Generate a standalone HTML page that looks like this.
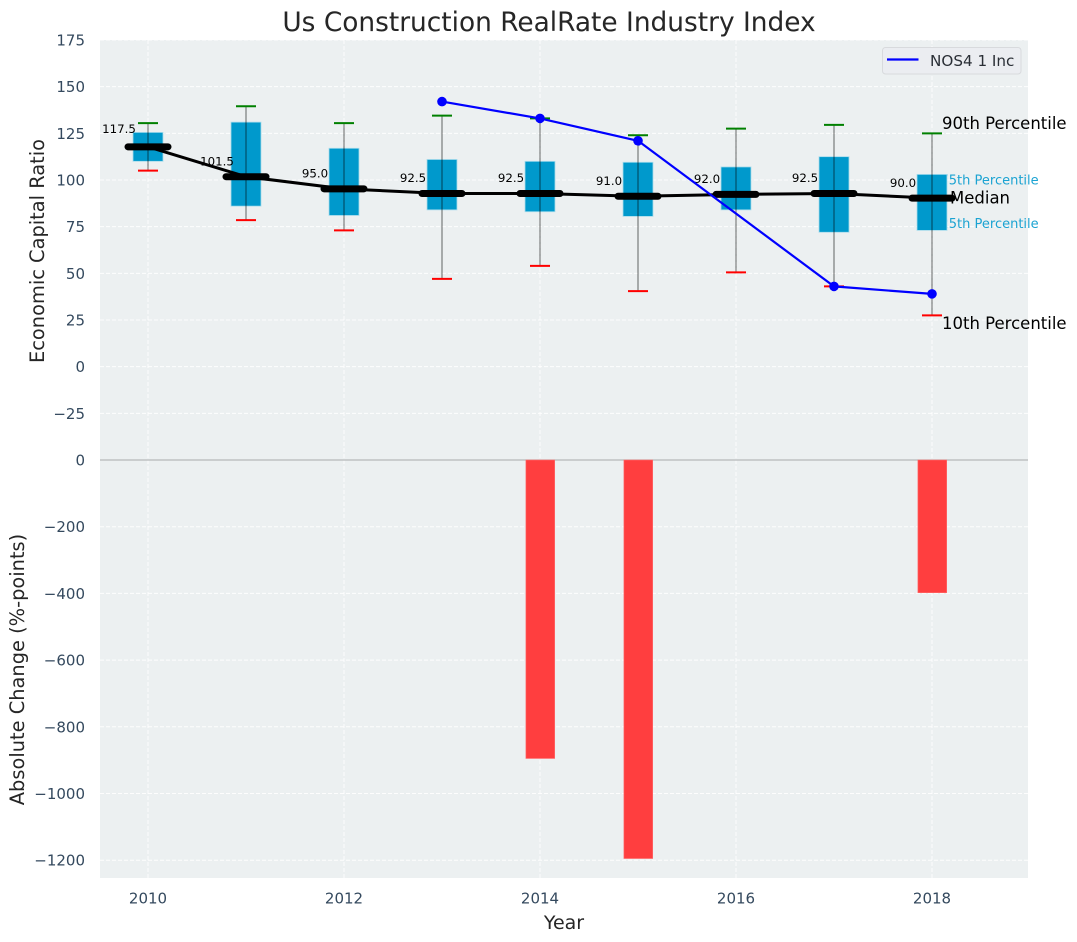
<!DOCTYPE html>
<html><head><meta charset="utf-8"><title>Us Construction RealRate Industry Index</title>
<style>
html,body{margin:0;padding:0;background:#fff}
svg{display:block;font-family:"DejaVu Sans","Liberation Sans",sans-serif}
</style></head>
<body>
<svg id="chart" width="1077" height="942" viewBox="0 0 1077 942" xmlns="http://www.w3.org/2000/svg"></svg>
<script>
const years = [2010, 2011, 2012, 2013, 2014, 2015, 2016, 2017, 2018];
const p90 = [130.5, 139.5, 130.5, 134.5, 133, 124, 127.5, 129.5, 125];
const p75 = [125.5, 131, 117, 111, 110, 109.5, 107, 112.5, 103];
const medians = [117.5, 101.5, 95, 92.5, 92.5, 91, 92, 92.5, 90];
const p25 = [110, 86, 81, 84, 83, 80.5, 84, 72, 73];
const p10 = [105, 78.5, 73, 47, 54, 40.5, 50.5, 43, 27.5];
const companyValues = [null, null, null, 142, 133, 121, null, 43, 39];
const changeValues = [null, null, null, null, -895, -1195, null, null, -398];
const topTicks = [175, 150, 125, 100, 75, 50, 25, 0, -25];
const bottomTicks = [0, -200, -400, -600, -800, -1000, -1200];
const xTicks = [2010, 2012, 2014, 2016, 2018];

const NS = 'http://www.w3.org/2000/svg';
const svg = document.getElementById('chart');
const L = 100, R = 1028, T = 40, M = 460, B = 878;
const X = v => 148 + (v - 2010) * 98;
const YT = v => 366.67 - v * 1.8667;
const YB = v => 460 - v * 0.3335;
function mk(tag, attrs, text) {
  const e = document.createElementNS(NS, tag);
  for (const k in attrs) e.setAttribute(k, attrs[k]);
  if (text !== undefined) e.textContent = text;
  svg.appendChild(e);
  return e;
}
const fmt = v => String(v).replace('-', '\u2212');
let el;

el = mk('rect', {x: L, y: T, width: R - L, height: B - T, fill: '#ecf0f1'});



xTicks.forEach(v => {
  el = mk('line', {x1: X(v), x2: X(v), y1: T, y2: B, stroke: '#fff', 'stroke-width': 1, 'stroke-dasharray': '4 2', opacity: .9});
  
  
  el = mk('text', {x: X(v), y: 903.5, 'text-anchor': 'middle', 'font-size': 15, fill: '#34495e'}, String(v));
  
  
});
topTicks.forEach(v => {
  el = mk('line', {x1: L, x2: R, y1: YT(v), y2: YT(v), stroke: '#fff', 'stroke-width': 1, 'stroke-dasharray': '4 2', opacity: .9});
  
  
  el = mk('text', {x: 85, y: YT(v) + 5.5, 'text-anchor': 'end', 'font-size': 15, fill: '#34495e'}, fmt(v));
  
  
});
bottomTicks.forEach(v => {
  if (v !== 0) {
    el = mk('line', {x1: L, x2: R, y1: YB(v), y2: YB(v), stroke: '#fff', 'stroke-width': 1, 'stroke-dasharray': '4 2', opacity: .9});
    
    
  }
  el = mk('text', {x: 85, y: YB(v) + 5.5, 'text-anchor': 'end', 'font-size': 15, fill: '#34495e'}, fmt(v));
  
  
});

el = mk('line', {x1: L, x2: R, y1: M, y2: M, stroke: '#b5b8b9', 'stroke-width': 1.3});



changeValues.forEach((v, i) => {
  if (v === null) return;
  el = mk('rect', {x: X(years[i]) - 14.1, y: YB(0), width: 28.8, height: YB(v) - YB(0), fill: '#ff3e3f', stroke: '#ff6f70', 'stroke-width': .6});
  
  
});

const last = years.length - 1;
const lastX = X(years[last]);
el = mk('text', {x: lastX + 10, y: YT(p90[last]) - 8.7, 'font-size': 16.5, fill: '#000', 'dominant-baseline': 'middle'}, '90th Percentile');


el = mk('text', {x: lastX + 10, y: YT(p10[last]) + 9, 'font-size': 16.5, fill: '#000', 'dominant-baseline': 'middle'}, '10th Percentile');


el = mk('text', {x: lastX + 8.5, y: YT(p75[last]) + 6.5, 'font-size': 13, fill: '#1ba3d2', 'dominant-baseline': 'middle'}, '75th Percentile');


el = mk('text', {x: lastX + 8.5, y: YT(p25[last]) - 6, 'font-size': 13, fill: '#1ba3d2', 'dominant-baseline': 'middle'}, '25th Percentile');



years.forEach((yr, i) => {
  const cx = X(yr);
  el = mk('rect', {x: cx - 15, y: YT(p75[i]), width: 30, height: YT(p25[i]) - YT(p75[i]), fill: '#0099cc', stroke: '#a9dcec', 'stroke-width': .8});
  
  
  el = mk('line', {x1: cx, x2: cx, y1: YT(p10[i]), y2: YT(p90[i]), stroke: '#000', 'stroke-opacity': .45, 'stroke-width': 1.3});
  
  
  el = mk('line', {x1: cx - 10, x2: cx + 10, y1: YT(p90[i]), y2: YT(p90[i]), stroke: '#008000', 'stroke-width': 2});
  
  
  el = mk('line', {x1: cx - 10, x2: cx + 10, y1: YT(p10[i]), y2: YT(p10[i]), stroke: '#ff0000', 'stroke-width': 2});
  
  
});

el = mk('polyline', {points: years.map((y, i) => X(y) + ',' + (YT(medians[i]) - 0.5)).join(' '), fill: 'none', stroke: '#000', 'stroke-width': 3});



years.forEach((yr, i) => {
  const cx = X(yr);
  const my = YT(medians[i]) - 0.5;
  el = mk('line', {x1: cx - 20, x2: cx + 20, y1: my, y2: my, stroke: '#000', 'stroke-width': 7, 'stroke-linecap': 'round'});
  
  
  el = mk('text', {x: cx - 29, y: my - (i === 0 ? 14 : 11.3), 'text-anchor': 'middle', 'font-size': 11.8, fill: '#000'}, medians[i].toFixed(1));
  
  
});

el = mk('text', {x: lastX + 18, y: YT(medians[last]) + 0.5, 'font-size': 16.5, fill: '#000', 'dominant-baseline': 'middle'}, 'Median');



const companyPoints = years.map((y, i) => [y, companyValues[i]]).filter(p => p[1] !== null);
el = mk('polyline', {points: companyPoints.map(p => X(p[0]) + ',' + YT(p[1])).join(' '), fill: 'none', stroke: '#0000ff', 'stroke-width': 2.2});


companyPoints.forEach(p => {
  el = mk('circle', {cx: X(p[0]), cy: YT(p[1]), r: 4.8, fill: '#0000ff'});
  
  
});

el = mk('rect', {x: 882.5, y: 47.5, width: 138.5, height: 26.5, rx: 3, fill: '#ebedf1', stroke: '#d8dadd', 'stroke-width': 1});


el = mk('line', {x1: 887, x2: 918.5, y1: 59.5, y2: 59.5, stroke: '#0000ff', 'stroke-width': 2.2});


el = mk('text', {x: 930, y: 66, 'font-size': 15.2, fill: '#2a2f36'}, 'NOS4 1 Inc');



el = mk('text', {x: 549, y: 31, 'text-anchor': 'middle', 'font-size': 26.4, fill: '#262626'}, 'Us Construction RealRate Industry Index');


el = mk('text', {x: 564, y: 929, 'text-anchor': 'middle', 'font-size': 19, fill: '#262626'}, 'Year');


el = mk('text', {transform: 'translate(44,251) rotate(-90)', 'text-anchor': 'middle', 'font-size': 19.4, fill: '#262626'}, 'Economic Capital Ratio');


el = mk('text', {transform: 'translate(24,669.5) rotate(-90)', 'text-anchor': 'middle', 'font-size': 19.4, fill: '#262626'}, 'Absolute Change (%-points)');


</script>
</body></html>
